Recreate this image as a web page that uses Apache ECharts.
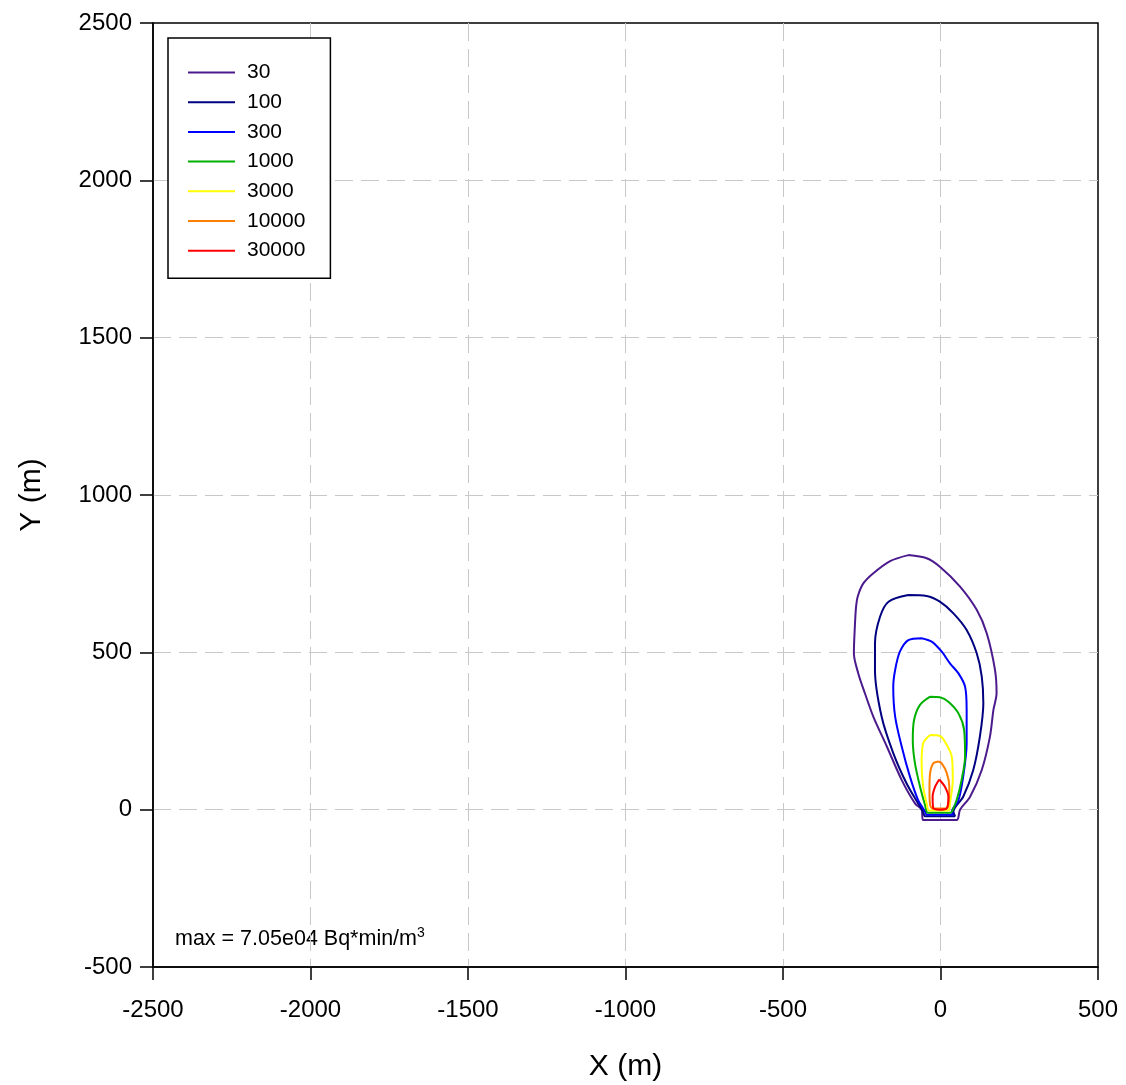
<!DOCTYPE html>
<html><head><meta charset="utf-8">
<script src="https://cdn.jsdelivr.net/npm/echarts@6/dist/echarts.min.js"></script>
<style>html,body{margin:0;padding:0;background:#fff}#c{width:1126px;height:1085px}</style>
</head><body><div id="c"></div>
<script>
const levels = ['30','100','300','1000','3000','10000','30000'];
const colors = ['#4B1A8C','#000080','#0000FF','#00B000','#FFFF00','#FF8000','#FF0000'];
const xTicks = [-2500,-2000,-1500,-1000,-500,0,500];
const yTicks = [-500,0,500,1000,1500,2000,2500];

const contour30 = [[-102,809],[-160,790],[-215,750],[-245,719],[-262,680],[-268,645],[-272,580],[-275,497],[-261,433],[-240,370],[-213,295],[-170,200],[-123,94],[-81,20],[-60,0],[-55,-33],[51,-33],[62,0],[94,41],[131,126],[157,232],[168,317],[178,370],[173,444],[147,560],[115,635],[62,709],[-2,772],[-44,799],[-102,809]];
const contour100 = [[-102,682],[-165,661],[-192,613],[-208,529],[-208,444],[-187,296],[-150,180],[-108,84],[-71,20],[-55,-6],[-49,-21],[46,-21],[41,-6],[72,41],[104,126],[125,232],[136,338],[131,423],[115,497],[83,571],[41,624],[-2,661],[-44,679],[-102,682]];
const contour300 = [[-60,545],[-102,539],[-129,502],[-144,444],[-150,391],[-144,296],[-123,200],[-97,105],[-71,30],[-49,-6],[-44,-16],[40,-16],[36,-6],[57,30],[72,105],[83,211],[83,317],[78,391],[57,433],[30,465],[4,502],[-28,534],[-60,545]];
const contour1000 = [[-33,359],[-65,333],[-84,285],[-88,221],[-81,147],[-65,73],[-49,15],[-40,-10],[32,-10],[36,-6],[51,30],[67,94],[78,168],[75,253],[57,306],[25,343],[-2,357],[-33,359]];
const contour3000 = [[-33,237],[-55,211],[-60,147],[-55,73],[-44,20],[-36,-3],[25,-3],[30,20],[39,94],[36,168],[14,216],[-2,234],[-33,237]];
const contour10000 = [[-7,153],[-23,147],[-33,116],[-35,63],[-33,15],[-25,4],[18,4],[25,15],[28,73],[20,116],[4,147],[-7,153]];
const contour30000 = [[-4,96],[-17,73],[-25,41],[-23,5],[-2,0],[20,5],[25,41],[14,73],[-4,96]];
const contours = [contour30,contour100,contour300,contour1000,contour3000,contour10000,contour30000];

const font = 'Liberation Sans, Arial, sans-serif';
const axisCommon = {
  axisLine:{show:true,onZero:false,lineStyle:{color:'#000',width:1.5}},
  axisTick:{show:true,inside:false,length:13,lineStyle:{color:'#000',width:1.5}},
  splitLine:{show:true,showMinLine:false,showMaxLine:false,lineStyle:{color:'#C8C8C8',width:1,type:[18,8]}}
};
const chart = echarts.init(document.getElementById('c'));
chart.setOption({
  animation:false,
  backgroundColor:'#fff',
  grid:{left:153,right:28,top:23,bottom:118,containLabel:false,outerBoundsMode:'none',show:true,borderColor:'#000',borderWidth:1.5,backgroundColor:'transparent'},
  xAxis:Object.assign({type:'value',min:xTicks[0],max:xTicks[xTicks.length-1],interval:500,name:'X (m)',nameLocation:'middle',nameGap:85,
    nameTextStyle:{fontFamily:font,fontSize:30,color:'#000'},
    axisLabel:{fontFamily:font,fontSize:24,color:'#000',margin:31,formatter:v=>String(v)}},axisCommon),
  yAxis:Object.assign({type:'value',min:yTicks[0],max:yTicks[yTicks.length-1],interval:500,name:'Y (m)',nameLocation:'middle',nameGap:106,
    nameTextStyle:{fontFamily:font,fontSize:30,color:'#000'},
    axisLabel:{fontFamily:font,fontSize:24,color:'#000',margin:21,formatter:v=>String(v)}},axisCommon),
  legend:{orient:'vertical',left:168,top:38,itemWidth:47,itemHeight:2,itemGap:8.7,
    icon:'path://M0,0 L47,0 L47,2 L0,2 Z',
    padding:[24,25,17,20],borderColor:'#000',borderWidth:1.5,backgroundColor:'#fff',
    textStyle:{fontFamily:font,fontSize:21,lineHeight:21,color:'#000',padding:[0,0,0,7]},
    data:levels},
  graphic:[{type:'text',left:175,top:926,style:{
    text:'{a|max = 7.05e04 Bq*min/m}{s|3}',
    rich:{a:{fontFamily:font,fontSize:21.5,fill:'#000',verticalAlign:'bottom'},
          s:{fontFamily:font,fontSize:14,fill:'#000',verticalAlign:'top',padding:[0,0,10,0]}}}}],
  series: contours.map((d,i)=>({name:levels[i],type:'line',data:d,showSymbol:false,symbol:'none',smooth:0.3,
    lineStyle:{color:colors[i],width:2},itemStyle:{color:colors[i]}}))
});
</script></body></html>
